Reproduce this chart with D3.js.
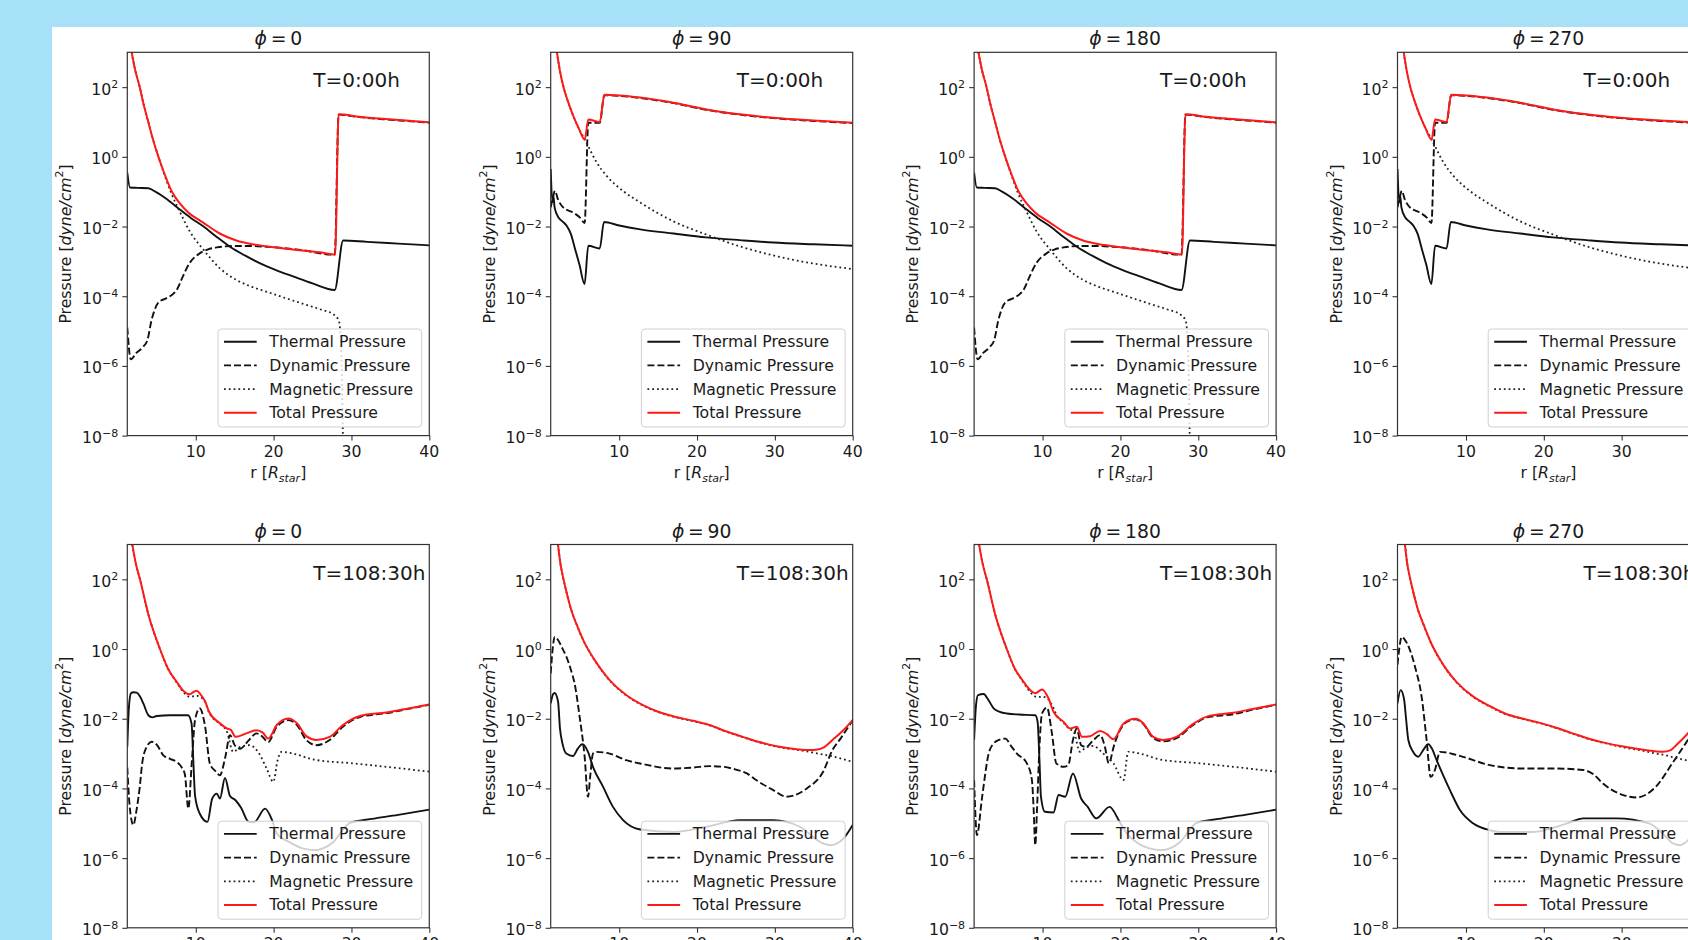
<!DOCTYPE html>
<html>
<head>
<meta charset="utf-8">
<script src="https://cdn.jsdelivr.net/npm/d3@7"></script>
<style>
  html, body { margin: 0; padding: 0; background: #a6e1f7; }
  svg { display: block; }
  text { font-family: "DejaVu Sans", sans-serif; fill: #1a1a1a; }
</style>
</head>
<body>
<svg id="chart" width="1688" height="940"></svg>
<script>
// ---- axis limits and tick values ----
const rLimits = [1.2, 40];
const pLimits = [1e-8, 1e3];
const rTicks = [10, 20, 30, 40];
const pTickExponents = [-8, -6, -4, -2, 0, 2];
const seriesNames = ["Thermal Pressure", "Dynamic Pressure", "Magnetic Pressure", "Total Pressure"];
const timeLabels = ["T=0:00h", "T=108:30h"];
const phiLabels = ["0", "90", "180", "270"];

// ---- profiles: [r (R_star), log10 pressure (dyne/cm^2)] ----
// T = 0:00h, phi = 0 / 180
const thermal_t0_a = [[1.2,-0.45],[1.55,-0.88],[2.5,-0.89],[3.9,-0.9],[4.8,-1.0],[5.8,-1.14],[7.0,-1.34],[8.0,-1.52],[9.4,-1.76],[11.0,-2.0],[12.7,-2.3],[14.4,-2.58],[16.3,-2.83],[18.2,-3.05],[20.3,-3.25],[22.5,-3.43],[25,-3.63],[27.85,-3.82],[28.93,-2.4],[32,-2.44],[36,-2.49],[40,-2.54]];
const dynamic_t0_a = [[1.2,-4.9],[1.65,-5.81],[2.4,-5.62],[3.25,-5.45],[3.8,-5.25],[4.3,-4.7],[4.7,-4.4],[5.2,-4.18],[6.2,-4.06],[7.0,-3.95],[7.6,-3.8],[8.3,-3.45],[9.2,-3.05],[10.5,-2.77],[11.5,-2.66],[12.7,-2.6],[14.8,-2.56],[17,-2.56],[19.1,-2.58],[23.4,-2.67],[27.85,-2.81],[28.35,1.21],[31,1.14],[34,1.08],[37,1.03],[40,0.98]];
const magnetic_t0_a = [[1.76,3.0],[2.2,2.5],[2.8,2.0],[3.3,1.5],[3.9,1.0],[4.5,0.5],[5.2,0.0],[6.0,-0.53],[6.8,-1.02],[7.4,-1.32],[8.0,-1.6],[9.2,-2.13],[11.0,-2.67],[13.1,-3.2],[15.2,-3.53],[17.3,-3.74],[19.5,-3.9],[21.6,-4.06],[23.8,-4.22],[25.9,-4.37],[27.8,-4.54],[28.4,-4.72],[28.75,-6],[28.95,-9]];
const total_t0_a = [[1.76,3.0],[2.2,2.5],[2.8,2.0],[3.3,1.5],[3.9,1.0],[4.5,0.5],[5.2,0.0],[6.0,-0.5],[6.8,-0.94],[7.4,-1.17],[8.0,-1.35],[9.0,-1.59],[10.9,-1.88],[13.07,-2.2],[15.2,-2.4],[17.3,-2.51],[19.5,-2.58],[21.6,-2.64],[25.9,-2.74],[27.9,-2.8],[28.35,1.22],[31,1.15],[34,1.09],[37,1.04],[40,0.99]];

// T = 0:00h, phi = 90 / 270
const thermal_t0_b = [[1.2,-0.35],[1.42,-1.3],[1.55,-1.12],[1.7,-1.45],[2.2,-1.74],[2.7,-1.85],[3.25,-1.98],[3.8,-2.22],[4.3,-2.62],[4.9,-3.1],[5.55,-3.65],[6.03,-2.55],[7.5,-2.63],[8.05,-1.87],[10,-1.97],[12.7,-2.08],[17,-2.2],[21.2,-2.31],[25.5,-2.39],[29.8,-2.46],[35,-2.51],[40,-2.55]];
const dynamic_t0_b = [[1.2,-1.45],[1.5,-1.15],[1.75,-0.97],[2.1,-1.2],[2.8,-1.45],[4.1,-1.6],[5.0,-1.75],[5.56,-1.9],[6.03,0.98],[7.5,0.98],[8.1,1.77],[10,1.75],[12.7,1.69],[17,1.54],[21.2,1.35],[25.5,1.21],[29.8,1.11],[35,1.03],[40,0.97]];
const magnetic_t0_b = [[2.0,3.0],[2.4,2.45],[2.85,2.0],[3.4,1.6],[4.06,1.2],[4.8,0.82],[5.58,0.5],[6.03,0.3],[7,-0.12],[8.4,-0.55],[10.5,-0.98],[12.7,-1.31],[16.95,-1.85],[21.2,-2.23],[25.5,-2.57],[29.8,-2.83],[34.1,-3.03],[40,-3.22]];
const total_t0_b = [[2.0,3.0],[2.4,2.45],[2.85,2.0],[3.4,1.6],[4.06,1.2],[4.8,0.82],[5.58,0.5],[6.03,1.07],[7.5,1.0],[8.1,1.78],[10,1.76],[12.7,1.7],[17,1.55],[21.2,1.36],[25.5,1.22],[29.8,1.12],[35,1.04],[40,0.98]];

// T = 108:30h, phi = 0
const thermal_t108_phi0 = [[1.2,-2.8],[1.4,-1.7],[1.67,-1.27],[2.0,-1.24],[2.4,-1.25],[2.8,-1.35],[3.26,-1.56],[3.9,-1.9],[4.4,-1.96],[5.0,-1.92],[6.7,-1.9],[9.0,-1.9],[9.45,-2.13],[9.7,-3.3],[9.9,-4.2],[10.5,-4.72],[11.5,-4.96],[12.1,-4.3],[12.7,-4.15],[13.1,-4.29],[13.75,-3.7],[14.4,-4.22],[15.1,-4.34],[15.8,-4.55],[16.8,-4.96],[17.5,-4.97],[18.9,-4.58],[19.8,-4.91],[20.4,-5.29],[22.1,-5.55],[23.7,-5.72],[25.3,-5.77],[27.6,-5.55],[29.8,-4.99],[31.9,-4.9],[36,-4.76],[40,-4.61]];
const dynamic_t108_phi0 = [[1.2,-3.4],[1.5,-4.5],[1.97,-5.05],[2.4,-4.6],[2.8,-3.96],[3.1,-3.3],[3.6,-2.85],[4.33,-2.66],[5.0,-2.75],[5.83,-3.05],[6.7,-3.15],[7.54,-3.24],[8.2,-3.4],[8.6,-3.6],[9.04,-4.58],[9.5,-3.2],[9.9,-2.04],[10.5,-1.7],[11.2,-2.23],[11.8,-3.28],[12.5,-3.5],[13.1,-3.62],[13.8,-3.09],[14.4,-2.47],[15.0,-2.76],[15.7,-2.86],[16.8,-2.62],[17.8,-2.42],[18.5,-2.5],[19.3,-2.67],[20.4,-2.23],[21.9,-2.04],[23.0,-2.18],[24.2,-2.61],[25.5,-2.76],[27.2,-2.61],[28.9,-2.23],[31.1,-1.95],[34.5,-1.84],[37,-1.73],[40,-1.6]];
const magnetic_t108_phi0 = [[1.84,3.0],[2.3,2.45],[2.83,2.0],[3.9,1.0],[5.4,0.0],[6.4,-0.55],[7.54,-0.96],[8.5,-1.26],[9.2,-1.37],[9.6,-1.36],[10.1,-1.34],[10.6,-1.38],[11.2,-1.52],[11.7,-1.82],[13.1,-2.15],[14.0,-2.37],[14.8,-2.95],[15.7,-2.81],[16.9,-2.76],[18.0,-2.95],[19.1,-3.43],[19.96,-3.81],[20.5,-3.2],[21.0,-2.95],[22.5,-3.0],[25.1,-3.17],[30.2,-3.28],[34.5,-3.38],[40,-3.52]];
const total_t108_phi0 = [[1.84,3.0],[2.3,2.45],[2.83,2.0],[3.9,1.0],[5.4,0.0],[6.4,-0.55],[7.54,-0.94],[8.5,-1.22],[9.2,-1.3],[9.65,-1.24],[10.1,-1.2],[10.6,-1.3],[11.2,-1.5],[11.7,-1.8],[13.1,-2.13],[14.0,-2.28],[14.5,-2.32],[15.1,-2.52],[16.5,-2.42],[17.8,-2.33],[18.6,-2.4],[19.3,-2.57],[20.4,-2.18],[21.9,-1.99],[23.0,-2.13],[24.2,-2.5],[25.5,-2.61],[27.2,-2.52],[28.9,-2.18],[31.1,-1.92],[34.5,-1.82],[37,-1.72],[40,-1.59]];

// T = 108:30h, phi = 90
const thermal_t108_phi90 = [[1.2,-1.56],[1.5,-1.3],[1.71,-1.26],[2.14,-1.5],[2.4,-2.3],[2.7,-2.7],[3.21,-3.0],[4.06,-3.07],[4.7,-2.85],[5.26,-2.73],[5.99,-2.95],[6.63,-3.38],[7.92,-3.95],[9.2,-4.53],[10.5,-4.91],[12.7,-5.18],[16.95,-5.25],[21.2,-5.1],[25.5,-4.91],[29.8,-4.91],[33.2,-5.1],[36.2,-5.58],[37.1,-5.63],[38.8,-5.44],[40,-5.05]];
const dynamic_t108_phi90 = [[1.2,-0.7],[1.45,0.0],[1.71,0.35],[2.14,0.26],[2.7,0.02],[3.21,-0.22],[3.8,-0.6],[4.28,-1.0],[4.92,-1.95],[5.56,-3.09],[5.99,-4.24],[6.3,-3.6],[6.63,-3.0],[7.06,-2.95],[8.77,-3.0],[10.9,-3.19],[13.05,-3.3],[16.9,-3.43],[19.5,-3.4],[21.6,-3.36],[23.4,-3.38],[25.0,-3.46],[26.4,-3.57],[27.6,-3.76],[29.8,-4.05],[31.5,-4.24],[32.5,-4.2],[34.1,-4.0],[36.2,-3.52],[37.4,-2.9],[38.5,-2.55],[40,-2.04]];
const magnetic_t108_phi90 = [[2.14,3.0],[2.45,2.45],[2.75,2.1],[3.21,1.65],[3.8,1.15],[4.5,0.72],[5.5,0.2],[6.63,-0.25],[7.6,-0.57],[8.77,-0.9],[10.9,-1.33],[13.05,-1.62],[15,-1.81],[17.3,-1.96],[19.5,-2.07],[21.6,-2.19],[23.7,-2.37],[25.9,-2.53],[28,-2.68],[30.2,-2.8],[33,-2.9],[34.4,-2.95],[35.5,-3.0],[37.4,-3.08],[40,-3.24]];
const total_t108_phi90 = [[2.14,3.0],[2.45,2.45],[2.75,2.1],[3.21,1.65],[3.8,1.15],[4.5,0.72],[5.5,0.2],[6.63,-0.24],[7.6,-0.56],[8.77,-0.89],[10.9,-1.32],[13.05,-1.61],[15,-1.8],[17.3,-1.95],[19.5,-2.06],[21.6,-2.18],[23.7,-2.36],[25.9,-2.52],[28,-2.67],[30.2,-2.79],[33,-2.88],[34.4,-2.9],[35.5,-2.88],[36.3,-2.82],[37.4,-2.61],[38.7,-2.35],[40,-2.04]];

// T = 108:30h, phi = 180
const thermal_t108_phi180 = [[1.2,-2.61],[1.45,-1.6],[1.7,-1.32],[2.43,-1.29],[3.0,-1.45],[3.71,-1.7],[4.5,-1.8],[5.42,-1.85],[7.0,-1.88],[9.06,-1.9],[9.36,-2.09],[9.6,-3.2],[9.79,-4.24],[10.3,-4.67],[11.4,-4.69],[12.06,-4.19],[12.9,-4.24],[13.9,-3.57],[14.95,-4.29],[15.8,-4.53],[16.9,-4.86],[18.6,-4.53],[19.9,-4.96],[20.8,-5.29],[22.1,-5.55],[23.7,-5.72],[25.3,-5.77],[27.6,-5.55],[29.8,-4.99],[31.9,-4.9],[36,-4.76],[40,-4.61]];
const dynamic_t108_phi180 = [[1.2,-3.76],[1.57,-5.34],[2.2,-4.3],[3.07,-3.0],[3.71,-2.71],[4.5,-2.6],[5.21,-2.57],[6.0,-2.8],[6.7,-3.0],[7.98,-3.28],[8.63,-3.76],[8.85,-4.6],[9.06,-5.63],[9.3,-4.5],[9.6,-2.8],[9.92,-1.85],[10.56,-1.68],[11.2,-2.42],[11.76,-3.28],[12.7,-3.38],[13.3,-3.33],[13.9,-2.61],[14.4,-2.28],[14.95,-2.76],[15.6,-2.81],[16.5,-2.62],[17.4,-2.47],[18.0,-2.8],[18.5,-3.28],[19.2,-2.75],[19.9,-2.35],[20.8,-2.09],[21.9,-2.02],[22.9,-2.14],[24.2,-2.55],[25.5,-2.65],[27.2,-2.56],[29.4,-2.17],[31.1,-1.96],[34.5,-1.87],[37,-1.74],[40,-1.6]];
const magnetic_t108_phi180 = [[1.84,3.0],[2.3,2.45],[2.83,2.0],[3.9,1.0],[5.4,0.0],[6.4,-0.55],[7.54,-0.96],[8.5,-1.26],[9.2,-1.37],[9.92,-1.37],[10.6,-1.42],[11.3,-1.65],[11.8,-1.9],[12.7,-2.12],[13.5,-2.3],[14.0,-2.37],[14.8,-2.95],[15.6,-2.82],[16.5,-2.78],[17.8,-3.0],[19.1,-3.28],[20.4,-3.76],[21.0,-2.95],[22.5,-3.0],[25.1,-3.17],[30.2,-3.28],[34.5,-3.38],[40,-3.52]];
const total_t108_phi180 = [[1.84,3.0],[2.3,2.45],[2.83,2.0],[3.9,1.0],[5.4,0.0],[6.4,-0.55],[7.56,-0.94],[8.5,-1.2],[9.06,-1.27],[9.92,-1.16],[10.77,-1.42],[11.4,-1.8],[12.7,-2.09],[13.55,-2.28],[14.4,-2.23],[15.05,-2.52],[16.1,-2.5],[17.4,-2.35],[18.3,-2.45],[19.1,-2.59],[20.4,-2.14],[21.9,-2.0],[22.9,-2.12],[24.2,-2.52],[25.5,-2.61],[27.2,-2.52],[29.4,-2.14],[31.1,-1.94],[34.5,-1.83],[37,-1.72],[40,-1.59]];

// T = 108:30h, phi = 270
const thermal_t108_phi270 = [[1.2,-1.56],[1.6,-1.18],[2.03,-1.42],[2.3,-2.0],[2.59,-2.61],[3.2,-2.95],[3.87,-3.09],[4.5,-2.9],[5.16,-2.73],[5.6,-2.85],[6.23,-3.19],[7.94,-4.05],[9.22,-4.62],[10.9,-5.0],[13.07,-5.2],[14.4,-5.25],[18.6,-5.25],[22.9,-5.01],[25.1,-4.86],[29.3,-4.86],[33.6,-5.01],[35.5,-5.35],[36.6,-5.58],[37.5,-5.63],[38.5,-5.49],[40,-5.05]];
const dynamic_t108_phi270 = [[1.2,-0.45],[1.45,0.05],[1.73,0.35],[2.1,0.28],[2.8,-0.03],[3.5,-0.55],[4.3,-1.37],[4.94,-2.61],[5.46,-3.67],[6.01,-3.47],[6.66,-2.95],[8.8,-3.04],[13.07,-3.33],[17.35,-3.43],[21.6,-3.43],[25.0,-3.47],[26.4,-3.6],[27.6,-3.86],[30.2,-4.19],[31.9,-4.26],[34.4,-3.95],[36.5,-3.28],[38.5,-2.61],[40,-2.05]];
const magnetic_t108_phi270 = [[2.16,3.0],[2.45,2.45],[2.75,2.1],[3.21,1.65],[3.8,1.15],[4.52,0.71],[5.5,0.17],[6.66,-0.31],[7.6,-0.63],[8.8,-0.96],[10.9,-1.37],[13.07,-1.65],[15,-1.86],[17.35,-2.01],[19.5,-2.13],[21.6,-2.27],[23.7,-2.43],[25.9,-2.59],[28,-2.71],[30.2,-2.82],[33,-2.93],[34.4,-3.0],[35.5,-3.04],[36.5,-3.1],[38.5,-3.2],[40,-3.27]];
const total_t108_phi270 = [[2.16,3.0],[2.45,2.45],[2.75,2.1],[3.21,1.65],[3.8,1.15],[4.52,0.72],[5.5,0.18],[6.66,-0.3],[7.6,-0.62],[8.8,-0.95],[10.9,-1.36],[13.07,-1.64],[15,-1.85],[17.35,-2.0],[19.5,-2.12],[21.6,-2.26],[23.7,-2.42],[25.9,-2.58],[28,-2.7],[30.2,-2.8],[33,-2.9],[35.3,-2.95],[36.3,-2.9],[37.0,-2.76],[38.5,-2.42],[40,-2.0]];

// ---- panel grid (row = time step, column = azimuth) ----
const panels = [
  { row: 0, col: 0, series: [thermal_t0_a, dynamic_t0_a, magnetic_t0_a, total_t0_a] },
  { row: 0, col: 1, series: [thermal_t0_b, dynamic_t0_b, magnetic_t0_b, total_t0_b] },
  { row: 0, col: 2, series: [thermal_t0_a, dynamic_t0_a, magnetic_t0_a, total_t0_a] },
  { row: 0, col: 3, series: [thermal_t0_b, dynamic_t0_b, magnetic_t0_b, total_t0_b] },
  { row: 1, col: 0, series: [thermal_t108_phi0, dynamic_t108_phi0, magnetic_t108_phi0, total_t108_phi0] },
  { row: 1, col: 1, series: [thermal_t108_phi90, dynamic_t108_phi90, magnetic_t108_phi90, total_t108_phi90] },
  { row: 1, col: 2, series: [thermal_t108_phi180, dynamic_t108_phi180, magnetic_t108_phi180, total_t108_phi180] },
  { row: 1, col: 3, series: [thermal_t108_phi270, dynamic_t108_phi270, magnetic_t108_phi270, total_t108_phi270] }
];

// ---- layout ----
const W = 1688, H = 940;
const colLeft = [127.3, 550.7, 974.1, 1397.5];
const rowTop = [52.3, 544.5];
const pw = 302, ph = 383.3;
const fs = 15.7;

const styles = [
  { stroke: "#111", dash: null, width: 1.9 },
  { stroke: "#111", dash: "7,3", width: 1.9 },
  { stroke: "#222", dash: "1.8,3", width: 1.8 },
  { stroke: "#ff1a1a", dash: null, width: 2.0 }
];

const svg = d3.select("#chart");
svg.append("rect").attr("width", W).attr("height", H).attr("fill", "#a6e1f7");
svg.append("rect").attr("x", 52).attr("y", 27).attr("width", W - 52).attr("height", H - 27).attr("fill", "#ffffff");

const x = d3.scaleLinear().domain(rLimits).range([0, pw]);
const y = d3.scaleLog().domain(pLimits).range([ph, 0]);

const line = d3.line()
  .x(d => x(d[0]))
  .y(d => y(Math.pow(10, d[1])))
  .curve(d3.curveMonotoneX);

panels.forEach((p, i) => {
  const g = svg.append("g").attr("transform", `translate(${colLeft[p.col]},${rowTop[p.row]})`);
  const clipId = "clip" + i;
  g.append("clipPath").attr("id", clipId).append("rect").attr("width", pw).attr("height", ph);

  const plot = g.append("g").attr("clip-path", `url(#${clipId})`);
  p.series.forEach((s, k) => {
    plot.append("path")
      .attr("d", line(s))
      .attr("fill", "none")
      .attr("stroke", styles[k].stroke)
      .attr("stroke-width", styles[k].width)
      .attr("stroke-dasharray", styles[k].dash)
      .attr("stroke-linejoin", "round");
  });

  // axes
  const yAxis = g.append("g").call(
    d3.axisLeft(y).tickValues(pTickExponents.map(e => Math.pow(10, e))).tickFormat("").tickSize(5).tickSizeOuter(0));
  const xAxis = g.append("g").attr("transform", `translate(0,${ph})`).call(
    d3.axisBottom(x).tickValues(rTicks).tickFormat("").tickSize(5).tickSizeOuter(0));
  [yAxis, xAxis].forEach(a => {
    a.select(".domain").remove();
    a.selectAll(".tick line").attr("stroke", "#333").attr("stroke-width", 1.1);
  });

  pTickExponents.forEach(e => {
    const t = g.append("text")
      .attr("x", -9).attr("y", y(Math.pow(10, e)) + 7.5)
      .attr("text-anchor", "end").attr("font-size", fs);
    t.append("tspan").text("10");
    t.append("tspan").attr("dy", -6.5).attr("font-size", 11).text((e < 0 ? "\u2212" : "") + Math.abs(e));
  });
  rTicks.forEach(v => {
    g.append("text").attr("x", x(v)).attr("y", ph + 21)
      .attr("text-anchor", "middle").attr("font-size", fs).text(v);
  });

  // frame
  g.append("rect").attr("width", pw).attr("height", ph)
    .attr("fill", "none").attr("stroke", "#333").attr("stroke-width", 1.2);

  // title
  const title = g.append("text").attr("x", pw / 2).attr("y", -7)
    .attr("text-anchor", "middle").attr("font-size", 18.8);
  title.append("tspan").attr("font-style", "italic").text("\u03D5");
  title.append("tspan").text("\u2009=\u2009" + phiLabels[p.col]);

  // time stamp
  g.append("text").attr("x", 186).attr("y", 35).attr("font-size", 20).text(timeLabels[p.row]);

  // axis labels
  const yl = g.append("text")
    .attr("transform", `translate(-62,${ph / 2}) rotate(-90)`)
    .attr("text-anchor", "middle").attr("dominant-baseline", "central").attr("font-size", fs);
  yl.append("tspan").text("Pressure [");
  yl.append("tspan").attr("font-style", "italic").text("dyne/cm");
  yl.append("tspan").attr("dy", -6).attr("font-size", 11).text("2");
  yl.append("tspan").attr("dy", 6).text("]");

  const xl = g.append("text").attr("x", pw / 2).attr("y", ph + 42)
    .attr("text-anchor", "middle").attr("font-size", fs);
  xl.append("tspan").text("r [");
  xl.append("tspan").attr("font-style", "italic").text("R");
  xl.append("tspan").attr("dy", 4).attr("font-size", 11).attr("font-style", "italic").text("star");
  xl.append("tspan").attr("dy", -4).text("]");

  // legend
  const lg = g.append("g").attr("transform", "translate(90.7,276.7)");
  lg.append("rect").attr("width", 203.7).attr("height", 98).attr("rx", 3.5)
    .attr("fill", "#ffffff").attr("fill-opacity", 0.8)
    .attr("stroke", "#d0d0d0").attr("stroke-width", 1);
  seriesNames.forEach((name, k) => {
    const yy = 12.7 + k * 23.7;
    lg.append("line").attr("x1", 6).attr("x2", 38.7).attr("y1", yy).attr("y2", yy)
      .attr("stroke", styles[k].stroke).attr("stroke-width", styles[k].width)
      .attr("stroke-dasharray", styles[k].dash);
    lg.append("text").attr("x", 51.3).attr("y", yy).attr("dominant-baseline", "central")
      .attr("font-size", fs).text(name);
  });
});
</script>
</body>
</html>
